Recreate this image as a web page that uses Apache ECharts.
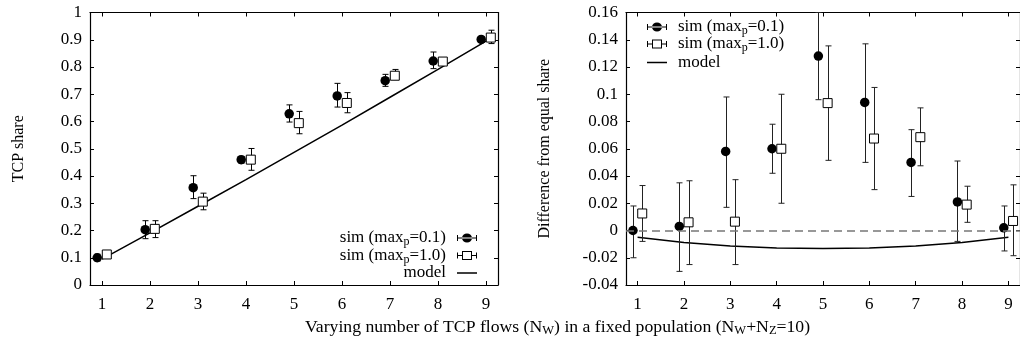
<!DOCTYPE html>
<html>
<head>
<meta charset="utf-8">
<script src="https://cdn.jsdelivr.net/npm/echarts@6/dist/echarts.min.js"></script>
<style>html,body{margin:0;padding:0;background:#fff}#c{width:1020px;height:343px}</style>
</head>
<body>
<div id="c"></div>
<script>
// ---- data ----
const flows = [1, 2, 3, 4, 5, 6, 7, 8, 9];

// left panel: TCP share
const shareSim01   = [0.100, 0.203, 0.357, 0.460, 0.628, 0.694, 0.750, 0.822, 0.901];
const shareSim01Lo = [0.088, 0.170, 0.317, 0.447, 0.598, 0.653, 0.729, 0.794, 0.892];
const shareSim01Hi = [0.113, 0.236, 0.401, 0.472, 0.661, 0.740, 0.773, 0.855, 0.912];
const shareSim10   = [0.112, 0.206, 0.306, 0.460, 0.594, 0.668, 0.768, 0.820, 0.908];
const shareSim10Lo = [0.100, 0.174, 0.276, 0.421, 0.555, 0.632, 0.755, 0.808, 0.886];
const shareSim10Hi = [0.124, 0.236, 0.337, 0.501, 0.637, 0.706, 0.791, 0.832, 0.935];
const shareModel   = [0.095, 0.191, 0.289, 0.387, 0.487, 0.587, 0.689, 0.791, 0.895];

// right panel: difference from equal share
const diffSim01   = [0.000, 0.003, 0.058, 0.060, 0.128, 0.094, 0.050, 0.021, 0.002];
const diffSim01Lo = [-0.020, -0.030, 0.017, 0.042, 0.096, 0.050, 0.025, -0.008, -0.015];
const diffSim01Hi = [0.018, 0.035, 0.098, 0.078, 0.160, 0.137, 0.074, 0.051, 0.018];
const diffSim10   = [0.0125, 0.006, 0.0065, 0.060, 0.0935, 0.0675, 0.0685, 0.019, 0.007];
const diffSim10Lo = [-0.008, -0.025, -0.025, 0.020, 0.0515, 0.030, 0.0475, 0.006, -0.0185];
const diffSim10Hi = [0.033, 0.0365, 0.0373, 0.100, 0.1355, 0.105, 0.090, 0.0325, 0.0335];
const diffModel   = [-0.005, -0.0088, -0.0113, -0.0128, -0.0133, -0.0128, -0.0113, -0.0088, -0.005];

const legendLabels = {
  sim01L: '{t|sim (max}{s|p}{t|=0.1)}',
  sim10L: '{t|sim (max}{s|p}{t|=1.0)}',
  modelL: '{t|model}',
  sim01R: '{t|sim (max}{s|p}{t|=0.1)}',
  sim10R: '{t|sim (max}{s|p}{t|=1.0)}',
  modelR: '{t|model}'
};
const xTitle = '{t|Varying number of TCP flows (N}{s|W}{t|) in a fixed population (N}{s|W}{t|+N}{s|Z}{t|=10)}';

// ---- styling ----
const FONT = '"Liberation Serif", "DejaVu Serif", serif';
const FS = 17;
const rich = {
  t: { fontFamily: FONT, fontSize: FS, fontWeight: 'normal', lineHeight: 20, color: '#000' },
  s: { fontFamily: FONT, fontSize: 12, fontWeight: 'normal', lineHeight: 8, verticalAlign: 'bottom', color: '#000' }
};
const titleRich = {
  t: { fontFamily: FONT, fontSize: 17.7, fontWeight: 'normal', lineHeight: 20, color: '#000' },
  s: { fontFamily: FONT, fontSize: 12.5, fontWeight: 'normal', lineHeight: 8, verticalAlign: 'bottom', color: '#000' }
};
const DX = 0.1;
const TINY = 'M0,0h0.01v0.01h-0.01z M20,9h-0.01v-0.01h0.01z ';
const circIcon = 'path://' + TINY + 'M0,4h20v1h-20z M0,1.5h1v6h-1z M19,1.5h1v6h-1z M15,4.5a5,4.5 0 1,0 -10,0a5,4.5 0 1,0 10,0z';
const sqIcon = 'path://' + TINY + 'M0,4h6v1h-6z M14,4h6v1h-6z M0,1.5h1v6h-1z M19,1.5h1v6h-1z M5,0h10v9h-10z M6,1v7h8v-7z';
const lineIcon = 'path://' + TINY + 'M0,3.8h20v1.5h-20z';

const grids = [
  { left: 90, top: 12.5, width: 408, height: 272.5 },
  { left: 626, top: 12.5, width: 397.5, height: 272.5 }
];

function xAx(gi, pos, labels) {
  return {
    type: 'value', gridIndex: gi, position: pos, min: 0.75, max: 9.25, splitNumber: 8,
    axisLine: { show: true, onZero: false, lineStyle: { color: '#000', width: 1.2 } },
    axisTick: { show: true, inside: true, length: 4, lineStyle: { color: '#000', width: 1 } },
    splitLine: { show: false },
    axisLabel: {
      show: labels, showMinLabel: false, showMaxLabel: false, margin: 11,
      fontFamily: FONT, fontSize: FS, color: '#000',
      formatter: v => (Math.abs(v - Math.round(v)) < 1e-9 ? String(Math.round(v)) : '')
    }
  };
}
function yAx(gi, pos, min, max, interval, labels, name, gap) {
  return {
    type: 'value', gridIndex: gi, position: pos, min: min, max: max, interval: interval,
    name: name || '', nameLocation: 'middle', nameRotate: 90, nameGap: gap || 0,
    nameTextStyle: { fontFamily: FONT, fontSize: 16, color: '#000' },
    axisLine: { show: true, onZero: false, lineStyle: { color: '#000', width: 1.2 } },
    axisTick: { show: true, inside: true, length: 4, lineStyle: { color: '#000', width: 1 } },
    splitLine: { show: false },
    axisLabel: { show: labels, margin: 8, fontFamily: FONT, fontSize: FS, color: '#000' }
  };
}

function errData(lo, hi, dx) {
  return flows.map((x, i) => [x + dx, lo[i], hi[i]]);
}
function errSeries(xi, yi, data, color) {
  return {
    type: 'custom', xAxisIndex: xi, yAxisIndex: yi, z: 3, silent: true,
    data: data,
    renderItem: function (params, api) {
      const a = api.coord([api.value(0), api.value(1)]);
      const b = api.coord([api.value(0), api.value(2)]);
      const x = Math.round(a[0]) + 0.5;
      const st = { stroke: color, lineWidth: 1 };
      return {
        type: 'group', children: [
          { type: 'line', shape: { x1: x, y1: a[1], x2: x, y2: b[1] }, style: st },
          { type: 'line', shape: { x1: x - 3, y1: a[1], x2: x + 3, y2: a[1] }, style: st },
          { type: 'line', shape: { x1: x - 3, y1: b[1], x2: x + 3, y2: b[1] }, style: st }
        ]
      };
    }
  };
}
function circSeries(name, xi, yi, vals) {
  return {
    name: name, type: 'scatter', xAxisIndex: xi, yAxisIndex: yi, z: 4,
    symbol: 'circle', symbolSize: 9.5,
    itemStyle: { color: '#000', opacity: 1 },
    data: flows.map((x, i) => [x - DX, vals[i]])
  };
}
function sqSeries(name, xi, yi, vals) {
  return {
    name: name, type: 'scatter', xAxisIndex: xi, yAxisIndex: yi, z: 4,
    symbol: 'rect', symbolSize: 9,
    itemStyle: { color: '#fff', borderColor: '#000', borderWidth: 1, opacity: 1 },
    data: flows.map((x, i) => [x + DX, vals[i]])
  };
}
function modelSeries(name, xi, yi, vals, extra) {
  return Object.assign({
    name: name, type: 'line', xAxisIndex: xi, yAxisIndex: yi, z: 2,
    symbol: 'none', showSymbol: false,
    lineStyle: { color: '#000', width: 1.5 }, itemStyle: { color: '#000' },
    data: flows.map((x, i) => [x, vals[i]])
  }, extra || {});
}

function leg(name, icon, pos, align, textPad) {
  return Object.assign({
    data: [{ name: name, icon: icon, itemStyle: { color: '#000', borderWidth: 0, opacity: 1 }, lineStyle: { width: 0 } }],
    orient: 'vertical', align: align, padding: 0,
    itemWidth: 20, itemHeight: 9, selectedMode: false,
    formatter: n => legendLabels[n],
    textStyle: { rich: rich, padding: textPad }
  }, pos);
}

const option = {
  animation: false,
  backgroundColor: '#fff',
  title: {
    text: xTitle, left: 305, top: 317, padding: 0,
    textStyle: { rich: titleRich, fontWeight: 'normal' }
  },
  grid: grids,
  xAxis: [xAx(0, 'bottom', true), xAx(0, 'top', false), xAx(1, 'bottom', true), xAx(1, 'top', false)],
  yAxis: [
    yAx(0, 'left', 0, 1, 0.1, true, 'TCP share', 63),
    yAx(0, 'right', 0, 1, 0.1, false),
    yAx(1, 'left', -0.04, 0.16, 0.02, true, 'Difference from equal share', 73),
    yAx(1, 'right', -0.04, 0.16, 0.02, false)
  ],
  legend: [
    leg('sim01L', circIcon, { right: 543, top: 229.5 }, 'right', [0, 6, 0, 0]),
    leg('sim10L', sqIcon, { right: 543, top: 247 }, 'right', [0, 6, 0, 0]),
    leg('modelL', lineIcon, { right: 543, top: 264.5 }, 'right', [0, 6, 0, 0]),
    leg('sim01R', circIcon, { left: 647, top: 18.5 }, 'left', [0, 0, 0, 6]),
    leg('sim10R', sqIcon, { left: 647, top: 35.5 }, 'left', [0, 0, 0, 6]),
    leg('modelR', lineIcon, { left: 647, top: 54 }, 'left', [0, 0, 0, 6])
  ],
  series: [
    modelSeries('modelL', 0, 0, shareModel),
    errSeries(0, 0, errData(shareSim01Lo, shareSim01Hi, -DX), '#000'),
    errSeries(0, 0, errData(shareSim10Lo, shareSim10Hi, DX), '#000'),
    circSeries('sim01L', 0, 0, shareSim01),
    sqSeries('sim10L', 0, 0, shareSim10),

    modelSeries('modelR', 2, 2, diffModel, {
      markLine: {
        silent: true, symbol: ['none', 'none'], label: { show: false },
        lineStyle: { type: [8, 5], color: '#777', width: 1.5 },
        data: [{ yAxis: 0 }]
      }
    }),
    errSeries(2, 2, errData(diffSim01Lo, diffSim01Hi, -DX), '#222'),
    errSeries(2, 2, errData(diffSim10Lo, diffSim10Hi, DX), '#222'),
    circSeries('sim01R', 2, 2, diffSim01),
    sqSeries('sim10R', 2, 2, diffSim10)
  ]
};

const chart = echarts.init(document.getElementById('c'), null, { renderer: 'canvas' });
chart.setOption(option);
</script>
</body>
</html>
